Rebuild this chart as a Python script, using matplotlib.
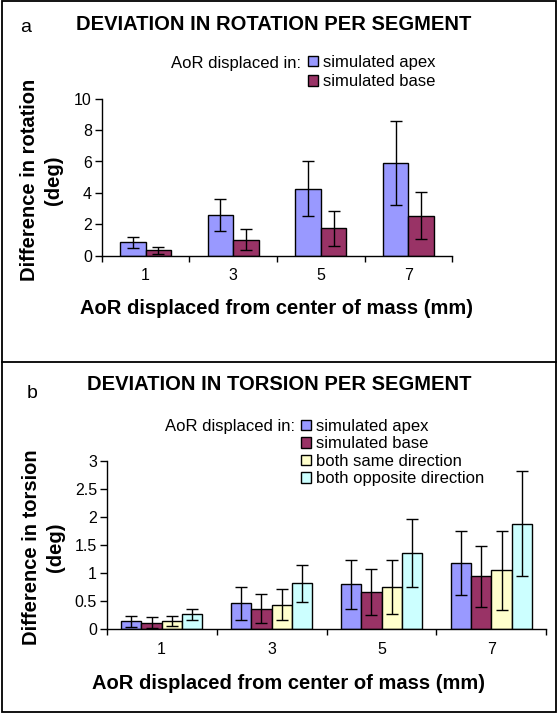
import matplotlib
matplotlib.use("Agg")
import matplotlib.pyplot as plt
import numpy as np
from matplotlib.patches import Rectangle
from matplotlib.lines import Line2D

plt.rcParams["font.family"] = ["Liberation Sans", "DejaVu Sans"]

# data
displacements = ["1", "3", "5", "7"]

rot_apex = [0.85, 2.57, 4.28, 5.93]
rot_apex_err = [0.35, 1.02, 1.78, 2.68]
rot_base = [0.35, 1.03, 1.74, 2.56]
rot_base_err = [0.22, 0.69, 1.12, 1.50]

tor_apex = [0.14, 0.46, 0.80, 1.18]
tor_apex_err = [0.10, 0.29, 0.44, 0.57]
tor_base = [0.12, 0.37, 0.66, 0.94]
tor_base_err = [0.09, 0.26, 0.41, 0.55]
tor_same = [0.14, 0.44, 0.75, 1.05]
tor_same_err = [0.09, 0.28, 0.48, 0.70]
tor_opp = [0.27, 0.82, 1.36, 1.88]
tor_opp_err = [0.10, 0.33, 0.61, 0.93]

rot_labels = ["simulated apex", "simulated base"]
tor_labels = ["simulated apex", "simulated base", "both same direction", "both opposite direction"]
colors = ["#9999FF", "#993366", "#FFFFCC", "#CCFFFF"]

W, H = 557, 713


def fx(px):
    return px / W


def fy(py):
    return 1 - py / H


def bar_panel(ax, series, errs, labels, bar_w, ymax, yticks):
    n = len(series)
    x = np.arange(len(displacements))
    handles = []
    for i, (vals, err) in enumerate(zip(series, errs)):
        off = (i - (n - 1) / 2) * bar_w
        b = ax.bar(x + off, vals, bar_w, color=colors[i], edgecolor="black",
                   linewidth=1, label=labels[i], zorder=2)
        ax.errorbar(x + off, vals, yerr=err, fmt="none", ecolor="black",
                    elinewidth=1, capsize=4.3, capthick=1, zorder=3)
        handles.append(b)
    ax.set_xlim(-0.5, len(displacements) - 0.5)
    ax.set_ylim(0, ymax)
    ax.set_xticks(x)
    ax.set_xticklabels(displacements, fontsize=11.5)
    ax.set_xticks(np.arange(-0.5, len(displacements)), minor=True)
    ax.tick_params(axis="x", which="major", length=0, pad=9)
    ax.tick_params(axis="x", which="minor", length=4.5, width=1, direction="out")
    ax.set_yticks(yticks)
    ax.set_yticklabels([f"{v:g}" for v in yticks], fontsize=11.5)
    ax.tick_params(axis="y", length=5, width=1, direction="out", pad=2)
    for s in ["top", "right"]:
        ax.spines[s].set_visible(False)
    for s in ["left", "bottom"]:
        ax.spines[s].set_linewidth(1)
    return handles


fig = plt.figure(figsize=(W / 100, H / 100), dpi=100)

# panel a
ax1 = fig.add_axes([fx(101.7), fy(255.7), fx(452.3 - 101.7), (255.7 - 98.7) / H])
h1 = bar_panel(ax1, [rot_apex, rot_base], [rot_apex_err, rot_base_err], rot_labels,
               0.29, 10, [0, 2, 4, 6, 8, 10])

# panel b
ax2 = fig.add_axes([fx(106.7), fy(629.3), fx(546.4 - 106.7), (629.3 - 460.7) / H])
h2 = bar_panel(ax2, [tor_apex, tor_base, tor_same, tor_opp],
               [tor_apex_err, tor_base_err, tor_same_err, tor_opp_err], tor_labels,
               0.184, 3, [0, 0.5, 1, 1.5, 2, 2.5, 3])

bold = dict(fontsize=14.5, fontweight="bold")
leg_fs = 12

fig.text(fx(25.5), fy(27), "a", fontsize=14, ha="center", va="center")
fig.text(fx(273.5), fy(25), "DEVIATION IN ROTATION PER SEGMENT", ha="center", va="center", **bold)
fig.text(fx(41.5), fy(180), "Difference in rotation\n(deg)", rotation=90, ha="center",
         va="center", multialignment="center", linespacing=1.3, **bold)
fig.text(fx(276), fy(308), "AoR displaced from center of mass (mm)", ha="center", va="center", **bold)
fig.text(fx(301), fy(63.3), "AoR displaced in:", fontsize=leg_fs, ha="right", va="center")
ax1.legend(handles=h1, loc="upper left", bbox_to_anchor=(fx(307.6), fy(55)),
           bbox_transform=fig.transFigure, frameon=False, fontsize=leg_fs,
           handlelength=0.6, handleheight=0.6, handletextpad=0.3,
           labelspacing=0.25, borderpad=0, borderaxespad=0)

fig.text(fx(32), fy(393), "b", fontsize=14, ha="center", va="center")
fig.text(fx(279.4), fy(385), "DEVIATION IN TORSION PER SEGMENT", ha="center", va="center", **bold)
fig.text(fx(43.5), fy(547.5), "Difference in torsion\n(deg)", rotation=90, ha="center",
         va="center", multialignment="center", linespacing=1.3, **bold)
fig.text(fx(288.5), fy(683.3), "AoR displaced from center of mass (mm)", ha="center", va="center", **bold)
fig.text(fx(295), fy(426), "AoR displaced in:", fontsize=leg_fs, ha="right", va="center")
ax2.legend(handles=h2, loc="upper left", bbox_to_anchor=(fx(301), fy(419)),
           bbox_transform=fig.transFigure, frameon=False, fontsize=leg_fs,
           handlelength=0.6, handleheight=0.6, handletextpad=0.3,
           labelspacing=0.15, borderpad=0, borderaxespad=0)

# panel frames
fig.add_artist(Rectangle((fx(2), fy(711.7)), fx(555.5 - 2), (711.7 - 1) / H,
                         transform=fig.transFigure, fill=False, edgecolor="black", linewidth=1.3))
fig.add_artist(Line2D([fx(2), fx(555.5)], [fy(362.3), fy(362.3)],
                      transform=fig.transFigure, color="black", linewidth=1.3))

fig.savefig("out.png", dpi=100)
